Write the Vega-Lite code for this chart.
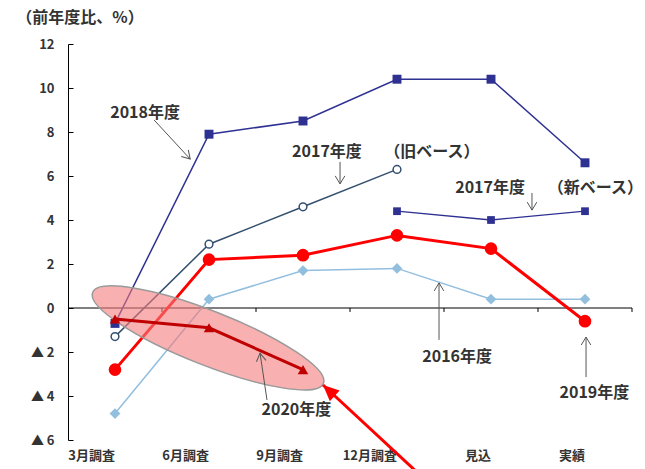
{
  "$schema": "https://vega.github.io/schema/vega-lite/v6.json",
  "width": 564,
  "height": 396,
  "autosize": {"type": "none"},
  "padding": {"left": 68, "top": 44, "right": 13, "bottom": 29},
  "config": {"view": {"stroke": null}, "font": "Noto Sans CJK JP"},
  "datasets": {
    "series": [
      {"s": "2016年度", "cat": "3月調査", "v": -4.8},
      {"s": "2016年度", "cat": "6月調査", "v": 0.4},
      {"s": "2016年度", "cat": "9月調査", "v": 1.7},
      {"s": "2016年度", "cat": "12月調査", "v": 1.8},
      {"s": "2016年度", "cat": "見込", "v": 0.4},
      {"s": "2016年度", "cat": "実績", "v": 0.4},
      {"s": "2017年度（旧ベース）", "cat": "3月調査", "v": -1.3},
      {"s": "2017年度（旧ベース）", "cat": "6月調査", "v": 2.9},
      {"s": "2017年度（旧ベース）", "cat": "9月調査", "v": 4.6},
      {"s": "2017年度（旧ベース）", "cat": "12月調査", "v": 6.3},
      {"s": "2017年度（新ベース）", "cat": "12月調査", "v": 4.4},
      {"s": "2017年度（新ベース）", "cat": "見込", "v": 4.0},
      {"s": "2017年度（新ベース）", "cat": "実績", "v": 4.4},
      {"s": "2018年度", "cat": "3月調査", "v": -0.7},
      {"s": "2018年度", "cat": "6月調査", "v": 7.9},
      {"s": "2018年度", "cat": "9月調査", "v": 8.5},
      {"s": "2018年度", "cat": "12月調査", "v": 10.4},
      {"s": "2018年度", "cat": "見込", "v": 10.4},
      {"s": "2018年度", "cat": "実績", "v": 6.6},
      {"s": "2019年度", "cat": "3月調査", "v": -2.8},
      {"s": "2019年度", "cat": "6月調査", "v": 2.2},
      {"s": "2019年度", "cat": "9月調査", "v": 2.4},
      {"s": "2019年度", "cat": "12月調査", "v": 3.3},
      {"s": "2019年度", "cat": "見込", "v": 2.7},
      {"s": "2019年度", "cat": "実績", "v": -0.6},
      {"s": "2020年度", "cat": "3月調査", "v": -0.5},
      {"s": "2020年度", "cat": "6月調査", "v": -0.9},
      {"s": "2020年度", "cat": "9月調査", "v": -2.8}
    ],
    "arrows": [
      {"x": 0.915, "y": 8.55, "x2": 1.30, "y2": 6.77},
      {"x": 2.894, "y": 6.64, "x2": 2.894, "y2": 5.64},
      {"x": 4.936, "y": 5.23, "x2": 4.936, "y2": 4.45},
      {"x": 3.947, "y": -1.45, "x2": 3.947, "y2": 1.14},
      {"x": 5.511, "y": -3.14, "x2": 5.511, "y2": -1.32},
      {"x": 2.117, "y": -4.18, "x2": 2.043, "y2": -2.05}
    ],
    "redArrow": [
      {"x": 3.745, "y": -7.59, "x2": 2.713, "y2": -3.5}
    ],
    "labels": [
      {"x": 0.82, "y": 8.86, "t": "2018年度"},
      {"x": 2.755, "y": 7.09, "t": "2017年度"},
      {"x": 3.87, "y": 7.09, "t": "（旧ベース）"},
      {"x": 4.49, "y": 5.45, "t": "2017年度"},
      {"x": 5.61, "y": 5.45, "t": "（新ベース）"},
      {"x": 4.14, "y": -2.23, "t": "2016年度"},
      {"x": 5.60, "y": -3.86, "t": "2019年度"},
      {"x": 2.43, "y": -4.64, "t": "2020年度"}
    ],
    "ellipse": [{"x": 1.49, "y": -1.36}]
  },
  "resolve": {"scale": {"x": "independent"}},
  "layer": [
    {
      "data": {"name": "series"},
      "layer": [
        {
          "data": {"values": [{}]},
          "mark": {"type": "rule", "color": "black", "strokeWidth": 1},
          "encoding": {
            "y": {"datum": 0, "type": "quantitative", "scale": {"domain": [-6, 12], "nice": false, "zero": false}}
          }
        },
        {
          "transform": [{"filter": "datum.s == '2016年度'"}],
          "mark": {"type": "rule", "color": "black", "strokeWidth": 1},
          "encoding": {
            "x": {"field": "cat", "type": "nominal", "bandPosition": 1, "sort": ["3月調査", "6月調査", "9月調査", "12月調査", "見込", "実績"], "scale": {"type": "band", "domain": ["3月調査", "6月調査", "9月調査", "12月調査", "見込", "実績"], "paddingInner": 0, "paddingOuter": 0}},
            "y": {"datum": 0, "type": "quantitative", "scale": {"domain": [-6, 12], "nice": false, "zero": false}},
            "y2": {"datum": -0.18}
          }
        },
        {
          "transform": [{"filter": "datum.s == '2016年度'"}],
          "mark": {"type": "line", "color": "#93BFDF", "strokeWidth": 1.5, "point": {"shape": "diamond", "size": 115, "filled": true, "color": "#93BFDF", "opacity": 1}},
          "encoding": {
            "x": {"field": "cat", "type": "nominal", "sort": ["3月調査", "6月調査", "9月調査", "12月調査", "見込", "実績"], "scale": {"type": "band", "domain": ["3月調査", "6月調査", "9月調査", "12月調査", "見込", "実績"], "paddingInner": 0, "paddingOuter": 0},
              "axis": {"title": null, "domain": false, "ticks": false, "labelPadding": 15, "labelFontSize": 13, "labelFontWeight": "bold", "labelColor": "#333", "labelAngle": 0, "labelFont": "Noto Sans CJK JP"}},
            "y": {"field": "v", "type": "quantitative", "scale": {"domain": [-6, 12], "nice": false, "zero": false},
              "axis": {"title": null, "values": [-6, -4, -2, 0, 2, 4, 6, 8, 10, 12], "labelExpr": "datum.value < 0 ? '▲  ' + abs(datum.value) : '' + datum.value", "grid": false, "domainColor": "black", "tickColor": "black", "tickSize": -5, "labelPadding": 19, "labelFontSize": 13, "labelFontWeight": "bold", "labelColor": "#333", "labelFont": "Noto Sans CJK JP"}}
          }
        },
        {
          "transform": [{"filter": "datum.s == '2017年度（旧ベース）'"}],
          "mark": {"type": "line", "color": "#34506E", "strokeWidth": 1.5, "point": {"shape": "circle", "size": 60, "filled": true, "fill": "white", "stroke": "#34506E", "strokeWidth": 1.5, "opacity": 1}},
          "encoding": {
            "x": {"field": "cat", "type": "nominal", "sort": ["3月調査", "6月調査", "9月調査", "12月調査", "見込", "実績"], "scale": {"type": "band", "domain": ["3月調査", "6月調査", "9月調査", "12月調査", "見込", "実績"], "paddingInner": 0, "paddingOuter": 0}},
            "y": {"field": "v", "type": "quantitative", "scale": {"domain": [-6, 12], "nice": false, "zero": false}}
          }
        },
        {
          "transform": [{"filter": "datum.s == '2017年度（新ベース）'"}],
          "mark": {"type": "line", "color": "#2E3192", "strokeWidth": 1.3, "point": {"shape": "square", "size": 60, "filled": true, "color": "#2E3192", "opacity": 1}},
          "encoding": {
            "x": {"field": "cat", "type": "nominal", "sort": ["3月調査", "6月調査", "9月調査", "12月調査", "見込", "実績"], "scale": {"type": "band", "domain": ["3月調査", "6月調査", "9月調査", "12月調査", "見込", "実績"], "paddingInner": 0, "paddingOuter": 0}},
            "y": {"field": "v", "type": "quantitative", "scale": {"domain": [-6, 12], "nice": false, "zero": false}}
          }
        },
        {
          "transform": [{"filter": "datum.s == '2018年度'"}],
          "mark": {"type": "line", "color": "#2E3192", "strokeWidth": 1.5, "point": {"shape": "square", "size": 80, "filled": true, "color": "#2E3192", "opacity": 1}},
          "encoding": {
            "x": {"field": "cat", "type": "nominal", "sort": ["3月調査", "6月調査", "9月調査", "12月調査", "見込", "実績"], "scale": {"type": "band", "domain": ["3月調査", "6月調査", "9月調査", "12月調査", "見込", "実績"], "paddingInner": 0, "paddingOuter": 0}},
            "y": {"field": "v", "type": "quantitative", "scale": {"domain": [-6, 12], "nice": false, "zero": false}}
          }
        },
        {
          "transform": [{"filter": "datum.s == '2019年度'"}],
          "mark": {"type": "line", "color": "#FF0000", "strokeWidth": 3, "point": {"shape": "circle", "size": 160, "filled": true, "color": "#FF0000", "opacity": 1}},
          "encoding": {
            "x": {"field": "cat", "type": "nominal", "sort": ["3月調査", "6月調査", "9月調査", "12月調査", "見込", "実績"], "scale": {"type": "band", "domain": ["3月調査", "6月調査", "9月調査", "12月調査", "見込", "実績"], "paddingInner": 0, "paddingOuter": 0}},
            "y": {"field": "v", "type": "quantitative", "scale": {"domain": [-6, 12], "nice": false, "zero": false}}
          }
        }
      ]
    },
    {
      "data": {"name": "ellipse"},
      "mark": {"type": "point", "shape": "M 1 0 C 1 0.1207 0.5523 0.2185 0 0.2185 C -0.5523 0.2185 -1 0.1207 -1 0 C -1 -0.1207 -0.5523 -0.2185 0 -0.2185 C 0.5523 -0.2185 1 -0.1207 1 0 Z", "size": 61504, "angle": 21.5, "filled": true, "fill": "#F47C7C", "fillOpacity": 0.6, "stroke": "#9A9A9A", "strokeWidth": 1.5, "opacity": 1},
      "encoding": {
        "x": {"field": "x", "type": "quantitative", "scale": {"domain": [0, 6], "nice": false, "zero": false}, "axis": null},
        "y": {"field": "y", "type": "quantitative", "scale": {"domain": [-6, 12], "nice": false, "zero": false}}
      }
    },
    {
      "data": {"name": "series"},
      "transform": [{"filter": "datum.s == '2020年度'"}],
      "mark": {"type": "line", "color": "#C00000", "strokeWidth": 3, "point": {"shape": "triangle-up", "size": 110, "filled": true, "color": "#C00000", "opacity": 1}},
      "encoding": {
        "x": {"field": "cat", "type": "nominal", "sort": ["3月調査", "6月調査", "9月調査", "12月調査", "見込", "実績"], "scale": {"type": "band", "domain": ["3月調査", "6月調査", "9月調査", "12月調査", "見込", "実績"], "paddingInner": 0, "paddingOuter": 0}, "axis": null},
        "y": {"field": "v", "type": "quantitative", "scale": {"domain": [-6, 12], "nice": false, "zero": false}}
      }
    },
    {
      "layer": [
        {
          "data": {"name": "arrows"},
          "mark": {"type": "rule", "color": "#555555", "strokeWidth": 1},
          "encoding": {
            "x": {"field": "x", "type": "quantitative", "scale": {"domain": [0, 6], "nice": false, "zero": false}, "axis": null},
            "y": {"field": "y", "type": "quantitative", "scale": {"domain": [-6, 12], "nice": false, "zero": false}},
            "x2": {"field": "x2"},
            "y2": {"field": "y2"}
          }
        },
        {
          "data": {"name": "arrows"},
          "transform": [{"calculate": "atan2((datum.x2 - datum.x) * 94, (datum.y2 - datum.y) * 22) * 180 / PI", "as": "a"}],
          "mark": {"type": "point", "shape": "M -0.6 1 L 0 0 L 0.6 1", "size": 256, "filled": false, "color": "#555555", "strokeWidth": 1, "opacity": 1},
          "encoding": {
            "x": {"field": "x2", "type": "quantitative", "scale": {"domain": [0, 6], "nice": false, "zero": false}, "axis": null},
            "y": {"field": "y2", "type": "quantitative", "scale": {"domain": [-6, 12], "nice": false, "zero": false}},
            "angle": {"field": "a", "type": "quantitative", "scale": null}
          }
        },
        {
          "data": {"name": "redArrow"},
          "mark": {"type": "rule", "color": "#FF0000", "strokeWidth": 3},
          "encoding": {
            "x": {"field": "x", "type": "quantitative", "scale": {"domain": [0, 6], "nice": false, "zero": false}, "axis": null},
            "y": {"field": "y", "type": "quantitative", "scale": {"domain": [-6, 12], "nice": false, "zero": false}},
            "x2": {"field": "x2"},
            "y2": {"field": "y2"}
          }
        },
        {
          "data": {"name": "redArrow"},
          "transform": [{"calculate": "atan2((datum.x2 - datum.x) * 94, (datum.y2 - datum.y) * 22) * 180 / PI", "as": "a"}],
          "mark": {"type": "point", "shape": "M 0 0 L -0.45 1 L 0.45 1 Z", "size": 1024, "filled": true, "color": "#FF0000", "opacity": 1},
          "encoding": {
            "x": {"field": "x2", "type": "quantitative", "scale": {"domain": [0, 6], "nice": false, "zero": false}, "axis": null},
            "y": {"field": "y2", "type": "quantitative", "scale": {"domain": [-6, 12], "nice": false, "zero": false}},
            "angle": {"field": "a", "type": "quantitative", "scale": null}
          }
        },
        {
          "data": {"name": "labels"},
          "mark": {"type": "text", "fontSize": 16, "fontWeight": "bold", "color": "#333333", "align": "center", "baseline": "middle", "font": "Noto Sans CJK JP"},
          "encoding": {
            "x": {"field": "x", "type": "quantitative", "scale": {"domain": [0, 6], "nice": false, "zero": false}, "axis": null},
            "y": {"field": "y", "type": "quantitative", "scale": {"domain": [-6, 12], "nice": false, "zero": false}},
            "text": {"field": "t"}
          }
        },
        {
          "data": {"values": [{"x": -0.55, "y": 13.18, "t": "（前年度比、%）"}]},
          "mark": {"type": "text", "fontSize": 16, "fontWeight": "bold", "color": "#333333", "align": "left", "baseline": "middle", "font": "Noto Sans CJK JP"},
          "encoding": {
            "x": {"field": "x", "type": "quantitative", "scale": {"domain": [0, 6], "nice": false, "zero": false}, "axis": null},
            "y": {"field": "y", "type": "quantitative", "scale": {"domain": [-6, 12], "nice": false, "zero": false}},
            "text": {"field": "t"}
          }
        }
      ]
    }
  ]
}
